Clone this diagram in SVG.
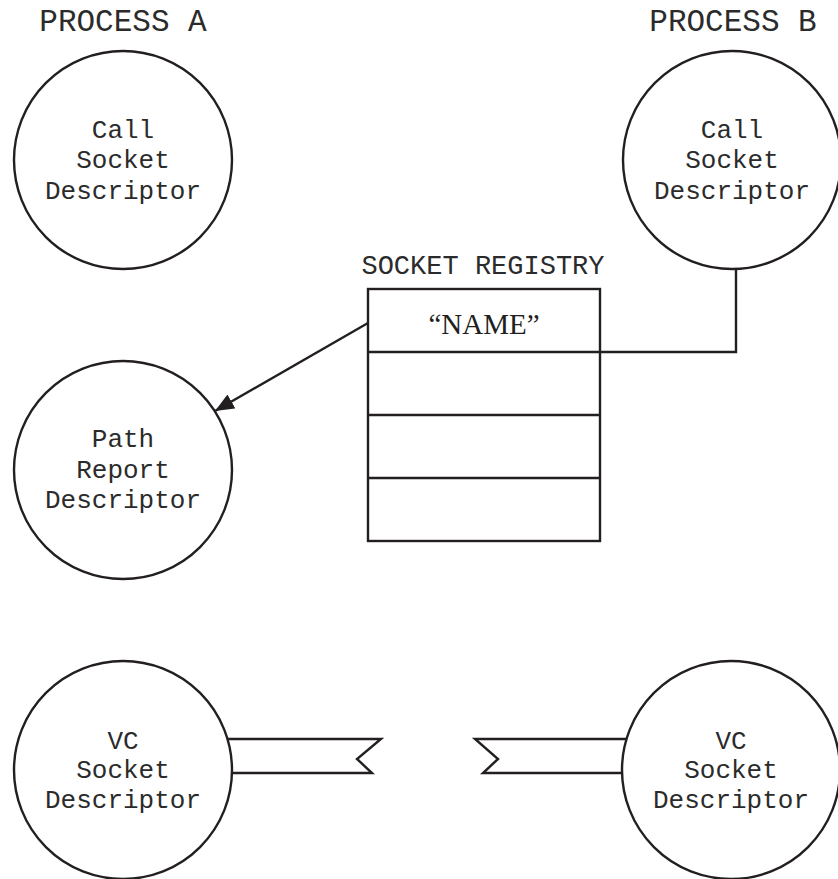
<svg xmlns="http://www.w3.org/2000/svg" width="838" height="879" viewBox="0 0 838 879">
  <style>
    .shape { fill: #fff; stroke: #231f20; stroke-width: 2.4; }
    .wire { fill: none; stroke: #231f20; stroke-width: 2.4; }
    .mono { font-family: "Liberation Mono", "Courier New", monospace; fill: #2b2b2b; text-anchor: middle; }
    .lbl { font-size: 26px; }
    .title { font-size: 31px; }
    .serif { font-family: "Liberation Serif", "Times New Roman", serif; font-size: 29px; fill: #231f20; text-anchor: middle; }
  </style>
  <defs>
    <marker id="arrow" markerWidth="20" markerHeight="18" refX="19" refY="8" orient="auto" markerUnits="userSpaceOnUse">
      <path d="M0,0 L19,8 L0,16 Z" fill="#231f20"/>
    </marker>
  </defs>
  <rect width="838" height="879" fill="#fff"/>

  <!-- process headings -->
  <text class="mono title" x="123" y="31">PROCESS A</text>
  <text class="mono title" x="733" y="31">PROCESS B</text>

  <!-- connectors -->
  <g id="connectors">
    <line class="wire" x1="368" y1="323" x2="215" y2="411" marker-end="url(#arrow)"/>
    <polyline class="wire" points="736,269 736,352 600,352"/>
  </g>

  <g id="call-socket-a">
    <circle class="shape" cx="123" cy="160" r="109"/>
    <text class="mono lbl" x="123" y="138">Call</text>
    <text class="mono lbl" x="123" y="168">Socket</text>
    <text class="mono lbl" x="123" y="199">Descriptor</text>
  </g>

  <g id="call-socket-b">
    <circle class="shape" cx="732" cy="160" r="109"/>
    <text class="mono lbl" x="732" y="138">Call</text>
    <text class="mono lbl" x="732" y="168">Socket</text>
    <text class="mono lbl" x="732" y="199">Descriptor</text>
  </g>

  <g id="socket-registry">
    <text class="mono lbl" x="483" y="274" style="font-size:27px">SOCKET REGISTRY</text>
    <rect class="shape" x="368" y="289" width="232" height="252"/>
    <line class="wire" x1="368" y1="352" x2="600" y2="352"/>
    <line class="wire" x1="368" y1="415" x2="600" y2="415"/>
    <line class="wire" x1="368" y1="478" x2="600" y2="478"/>
    <text class="serif" x="484" y="334">“NAME”</text>
  </g>

  <g id="path-report">
    <circle class="shape" cx="123" cy="470" r="109"/>
    <text class="mono lbl" x="123" y="447">Path</text>
    <text class="mono lbl" x="123" y="478">Report</text>
    <text class="mono lbl" x="123" y="508">Descriptor</text>
  </g>

  <g id="vc-socket-a">
    <polygon class="shape" points="220,739 381,739 357,759 372,773 220,773"/>
    <circle class="shape" cx="123" cy="770" r="109"/>
    <text class="mono lbl" x="123" y="749">VC</text>
    <text class="mono lbl" x="123" y="778">Socket</text>
    <text class="mono lbl" x="123" y="808">Descriptor</text>
  </g>

  <g id="vc-socket-b">
    <polygon class="shape" points="640,739 475,739 498,759 483,773 640,773"/>
    <circle class="shape" cx="731" cy="770" r="109"/>
    <text class="mono lbl" x="731" y="749">VC</text>
    <text class="mono lbl" x="731" y="778">Socket</text>
    <text class="mono lbl" x="731" y="808">Descriptor</text>
  </g>
</svg>
